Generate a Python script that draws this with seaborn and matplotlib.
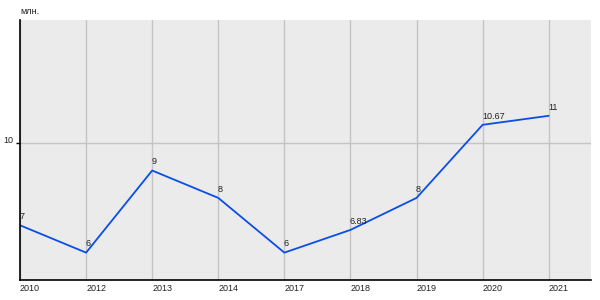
import matplotlib
matplotlib.use("Agg")
import matplotlib.pyplot as plt
import seaborn as sns
import pandas as pd

years = ["2010", "2012", "2013", "2014", "2017", "2018", "2019", "2020", "2021"]
values = [7, 6, 9, 8, 6, 6.83, 8, 10.67, 11]
labels = ["7", "6", "9", "8", "6", "6.83", "8", "10.67", "11"]
unit = "млн."

sns.set_theme(style="white")
plt.rcParams['font.family'] = ['Liberation Sans', 'DejaVu Sans']

df = pd.DataFrame({"year": years, "value": values})

fig = plt.figure(figsize=(6, 3), dpi=100)
ax = fig.add_axes([20/600, 20/300, 571/600, 260/300])
ax.set_facecolor("#ebebeb")

sns.lineplot(data=df, x="year", y="value", ax=ax, color="#0a4ee6", linewidth=1.3, sort=False)

for i, (v, t) in enumerate(zip(values, labels)):
    ax.annotate(t, (i, v), xytext=(-0.5, 3), textcoords="offset points",
                ha="left", va="bottom", fontsize=6.5, color="#222222")

ax.set_xlim(0, 8.64)
ax.set_ylim(5, 14.5)
ax.set_yticks([10])
ax.set_yticklabels(["10"])
ax.set_xticks(range(len(years)))
ax.set_xticklabels(years)
ax.grid(True, color="#c4c4c4", linewidth=1)
ax.set_axisbelow(True)
ax.set_xlabel("")
ax.set_ylabel("")
for s in ["top", "right"]:
    ax.spines[s].set_visible(False)
for s in ["left", "bottom"]:
    ax.spines[s].set_color("black")
    ax.spines[s].set_linewidth(1.2)
ax.tick_params(axis="y", left=True, length=3, width=1, color="black", labelsize=6.5, pad=2, labelcolor="#222222")
ax.tick_params(axis="x", bottom=False, length=0, labelsize=6.5, pad=3, labelcolor="#222222")
for lab in ax.get_xticklabels():
    lab.set_ha("left")
for lab in ax.get_yticklabels():
    lab.set_va("baseline")

fig.text(20/600, 1 - 12/300, unit, fontsize=6.5, ha="left", va="center", color="#222222")

fig.savefig("out.png", dpi=100, facecolor="white")
